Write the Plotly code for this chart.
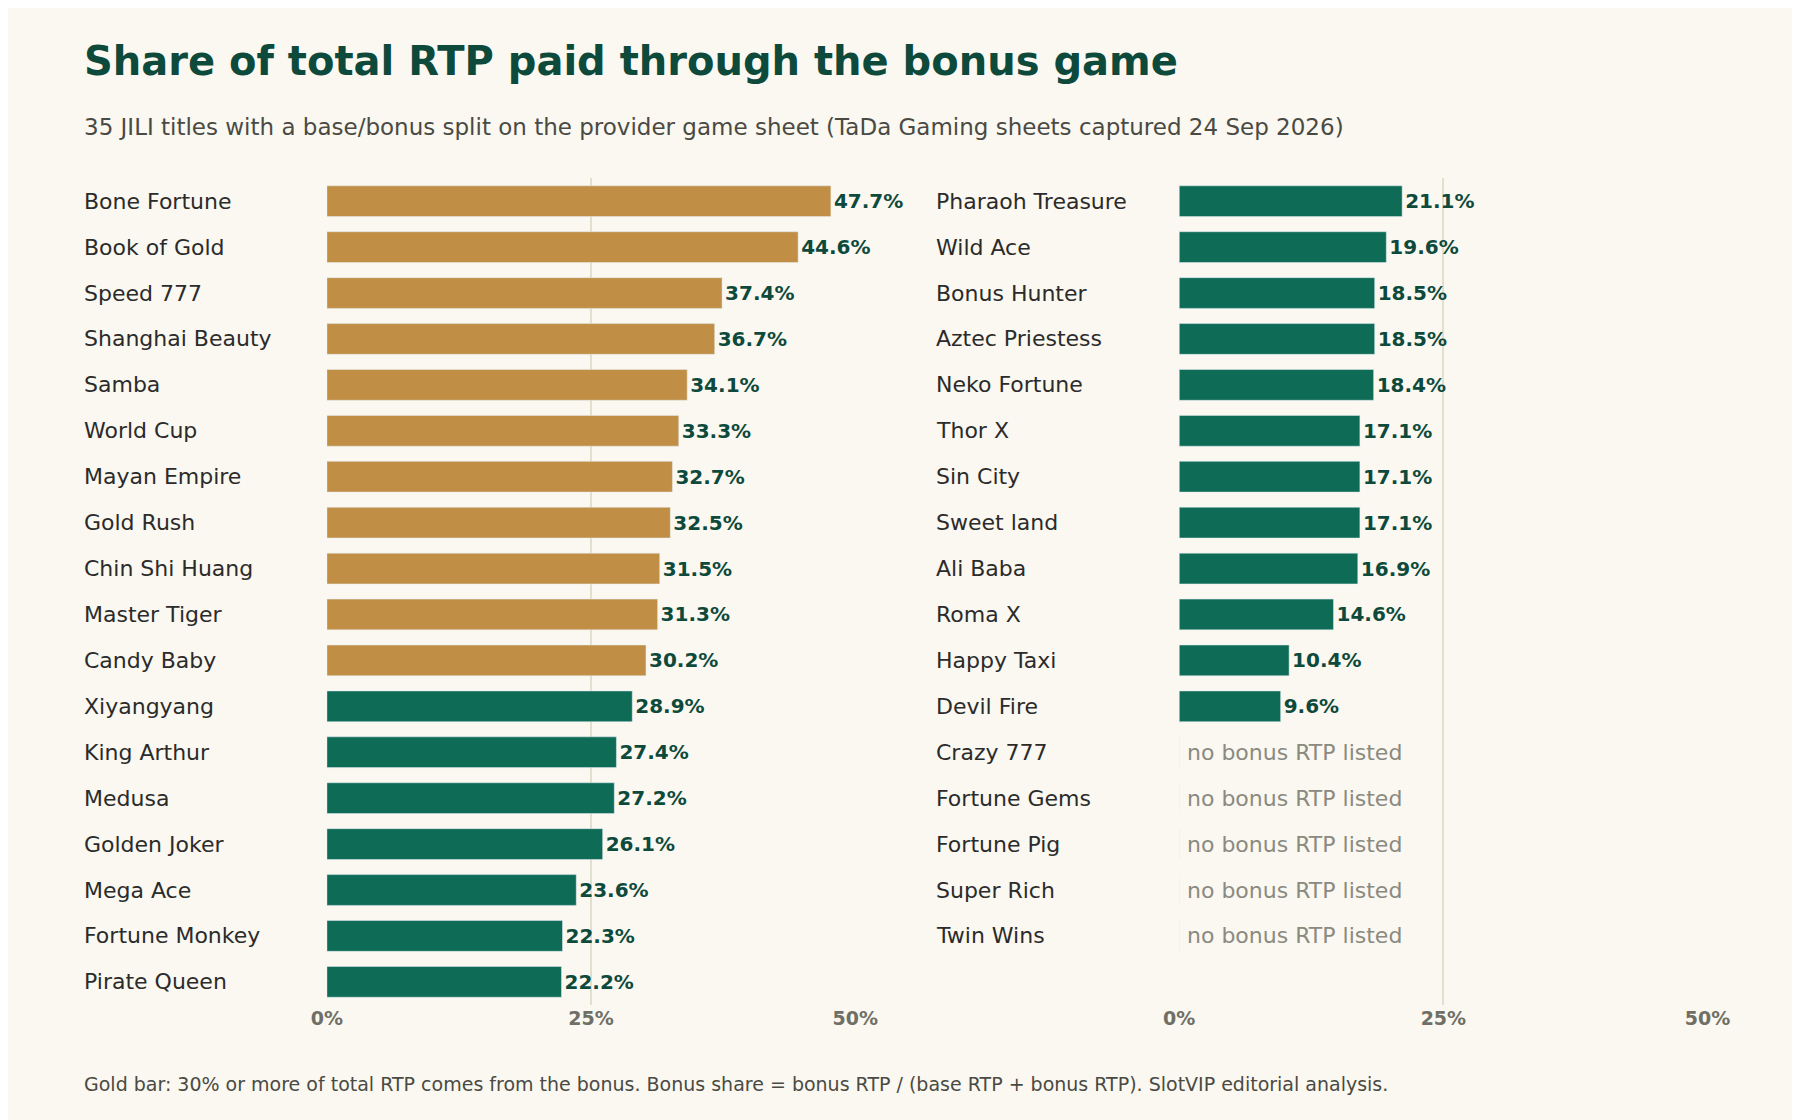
import plotly.graph_objects as go
from plotly.subplots import make_subplots

left_names = ["Bone Fortune", "Book of Gold", "Speed 777", "Shanghai Beauty", "Samba", "World Cup",
              "Mayan Empire", "Gold Rush", "Chin Shi Huang", "Master Tiger", "Candy Baby", "Xiyangyang",
              "King Arthur", "Medusa", "Golden Joker", "Mega Ace", "Fortune Monkey", "Pirate Queen"]
left_vals = [47.7, 44.6, 37.4, 36.7, 34.1, 33.3, 32.7, 32.5, 31.5, 31.3, 30.2, 28.9,
             27.4, 27.2, 26.1, 23.6, 22.3, 22.2]
right_names = ["Pharaoh Treasure", "Wild Ace", "Bonus Hunter", "Aztec Priestess", "Neko Fortune", "Thor X",
               "Sin City", "Sweet land", "Ali Baba", "Roma X", "Happy Taxi", "Devil Fire",
               "Crazy 777", "Fortune Gems", "Fortune Pig", "Super Rich", "Twin Wins"]
right_vals = [21.1, 19.6, 18.5, 18.5, 18.4, 17.1, 17.1, 17.1, 16.9, 14.6, 10.4, 9.6,
              None, None, None, None, None]

GOLD = "#C08F45"
GREEN = "#0D6B56"
DARK = "#0E4A3C"
BG = "#FAF8F0"

fig = make_subplots(rows=1, cols=2)

def add_panel(names, vals, col, xlab):
    n = len(left_names)
    ys = list(range(len(names)))
    xs = [v if v is not None else 0 for v in vals]
    colors = [GOLD if (v or 0) >= 30 else GREEN for v in vals]
    texts = [f"<b>{v:.1f}%</b>" if v is not None else "" for v in vals]
    fig.add_trace(go.Bar(x=xs, y=ys, orientation="h", marker_color=colors, width=0.67,
                         text=texts, textposition="outside", cliponaxis=False,
                         textfont=dict(size=20, color=DARK), showlegend=False), row=1, col=col)
    for y, nm, v in zip(ys, names, vals):
        fig.add_annotation(x=xlab, xref="paper", y=y, yref=f"y{'' if col == 1 else col}",
                           text=nm, showarrow=False, xanchor="left",
                           font=dict(size=22, color="#2b2b2b"))
        if v is None:
            fig.add_annotation(x=0, xref=f"x{'' if col == 1 else col}", y=y,
                               yref=f"y{'' if col == 1 else col}", text="no bonus RTP listed",
                               showarrow=False, xanchor="left", xshift=6,
                               font=dict(size=22, color="#8a8a80"))

add_panel(left_names, left_vals, 1, 0.0332)
add_panel(right_names, right_vals, 2, 0.5166)

n = len(left_names)
for c in (1, 2):
    fig.update_xaxes(range=[0, 50], tickvals=[0, 25, 50], ticktext=["<b>0%</b>", "<b>25%</b>", "<b>50%</b>"],
                     tickfont=dict(size=19, color="#6f6f66"), showgrid=True, gridcolor="#E2DFCF",
                     gridwidth=1.5, zeroline=False, showline=False, row=1, col=c)
    fig.update_yaxes(range=[n - 0.5, -0.5], showticklabels=False, showgrid=False,
                     zeroline=False, row=1, col=c)
fig.update_layout(xaxis=dict(domain=[0.172, 0.472]), xaxis2=dict(domain=[0.656, 0.956]),
                  yaxis=dict(domain=[0.11, 0.848]), yaxis2=dict(domain=[0.11, 0.848]))

fig.add_annotation(x=0.0332, y=0.975, xref="paper", yref="paper", xanchor="left", yanchor="top",
                   text="<b>Share of total RTP paid through the bonus game</b>", showarrow=False,
                   font=dict(size=40, color=DARK))
fig.add_annotation(x=0.0332, y=0.907, xref="paper", yref="paper", xanchor="left", yanchor="top",
                   text="35 JILI titles with a base/bonus split on the provider game sheet (TaDa Gaming sheets captured 24 Sep 2026)",
                   showarrow=False, font=dict(size=23, color="#4a4a44"))
fig.add_annotation(x=0.0332, y=0.028, xref="paper", yref="paper", xanchor="left", yanchor="bottom",
                   text="Gold bar: 30% or more of total RTP comes from the bonus. Bonus share = bonus RTP / (base RTP + bonus RTP). SlotVIP editorial analysis.",
                   showarrow=False, font=dict(size=19, color="#4a4a44"))

fig.update_layout(width=1800, height=1120, paper_bgcolor=BG, plot_bgcolor=BG,
                  font=dict(family="DejaVu Sans"), margin=dict(l=0, r=0, t=0, b=0), bargap=0.33)
fig.write_html("out.html")
